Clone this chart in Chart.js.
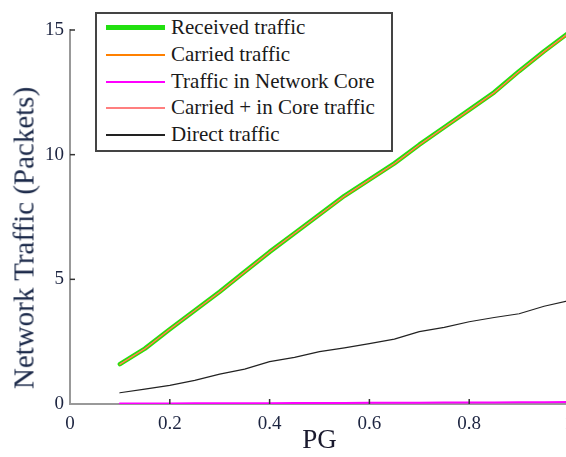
<!DOCTYPE html>
<html>
<head>
<meta charset="utf-8">
<script src="https://cdn.jsdelivr.net/npm/chart.js@4/dist/chart.umd.min.js"></script>
<style>
  html, body { margin: 0; padding: 0; background: #fff; overflow: hidden; }
  #wrap { position: relative; width: 566px; height: 457px; overflow: hidden; }
  #chart { position: absolute; left: 0; top: 0; }
  .ytitle {
    position: absolute; left: 24px; top: 238px;
    transform: translate(-50%, -50%) rotate(-90deg);
    font-family: "Liberation Serif", "DejaVu Serif", serif; font-size: 29px;
    color: #1c2a4a; white-space: nowrap;
  }
  .legend {
    position: absolute; left: 95px; top: 12px; width: 294px; height: 136px;
    border: 2px solid #444; background: #fff;
  }
  .legend .row {
    position: absolute; left: 0; height: 27px; line-height: 27px;
    font-family: "Liberation Serif", "DejaVu Serif", serif; font-size: 21px;
    color: #1a1a1a; white-space: nowrap;
  }
  .legend .row span.swatch { position: absolute; left: 9px; width: 59px; }
  .legend .row span.label { position: absolute; left: 74px; }
</style>
</head>
<body>
<div id="wrap">
  <canvas id="chart" width="600" height="457"></canvas>
  <div class="ytitle">Network Traffic (Packets)</div>
  <div class="legend" id="legend"></div>
</div>
<script>
// ── Data ───────────────────────────────────────────
const pg = [0.10, 0.15, 0.20, 0.25, 0.30, 0.35, 0.40, 0.45, 0.50, 0.55,
            0.60, 0.65, 0.70, 0.75, 0.80, 0.85, 0.90, 0.95, 1.00];

const received   = [1.60, 2.22, 3.00, 3.75, 4.50, 5.30, 6.10, 6.85, 7.60, 8.35,
                    9.00, 9.65, 10.40, 11.10, 11.80, 12.50, 13.35, 14.15, 14.90];
const carried    = [1.59, 2.21, 2.99, 3.74, 4.49, 5.29, 6.09, 6.84, 7.58, 8.33,
                    8.98, 9.63, 10.38, 11.08, 11.78, 12.48, 13.33, 14.12, 14.87];
const coreTraffic = [0.02, 0.02, 0.02, 0.03, 0.03, 0.03, 0.03, 0.04, 0.04, 0.04,
                     0.05, 0.05, 0.05, 0.06, 0.06, 0.06, 0.07, 0.07, 0.08];
const carriedCore = [1.60, 2.22, 3.00, 3.75, 4.50, 5.30, 6.10, 6.85, 7.60, 8.35,
                     9.00, 9.65, 10.40, 11.10, 11.80, 12.50, 13.35, 14.15, 14.90];
const direct     = [0.45, 0.60, 0.75, 0.95, 1.20, 1.40, 1.70, 1.87, 2.10, 2.25,
                    2.42, 2.60, 2.90, 3.07, 3.30, 3.47, 3.62, 3.92, 4.15];

const xTicks = [0, 0.2, 0.4, 0.6, 0.8, 1];
const yTicks = [0, 5, 10, 15];

const series = [
  { label: 'Received traffic',          data: received,    color: '#22e010', width: 4.5, order: 5 },
  { label: 'Carried traffic',           data: carried,     color: '#ff8000', width: 1.5, order: 4 },
  { label: 'Traffic in Network Core',   data: coreTraffic, color: '#ff00ff', width: 2,   order: 2 },
  { label: 'Carried + in Core traffic', data: carriedCore, color: '#ff7f7f', width: 1,   order: 3 },
  { label: 'Direct traffic',            data: direct,      color: '#222222', width: 1.2, order: 1 }
];

const serif = '"Liberation Serif", "DejaVu Serif", serif';

// ── Legend (html) ──────────────────────────────────
const legendEl = document.getElementById('legend');
series.forEach((s, i) => {
  const row = document.createElement('div');
  row.className = 'row';
  row.style.top = Math.round(i * 26.75) + 'px';
  const sw = document.createElement('span');
  sw.className = 'swatch';
  const h = i === 0 ? 5 : 2;
  sw.style.top = (i === 0 ? 11 : 13) + 'px';
  sw.style.height = h + 'px';
  sw.style.background = s.color;
  const lb = document.createElement('span');
  lb.className = 'label';
  lb.textContent = s.label;
  row.appendChild(sw);
  row.appendChild(lb);
  legendEl.appendChild(row);
});

// ── Inward tick marks ──────────────────────────────
const innerTicks = {
  id: 'innerTicks',
  afterDatasetsDraw(chart) {
    const { ctx, scales: { x, y } } = chart;
    ctx.save();
    ctx.strokeStyle = '#333';
    ctx.lineWidth = 1.5;
    xTicks.forEach(v => {
      if (v === 0) return;
      const px = x.getPixelForValue(v);
      ctx.beginPath();
      ctx.moveTo(px, y.bottom);
      ctx.lineTo(px, y.bottom - 5);
      ctx.stroke();
    });
    yTicks.forEach(v => {
      if (v === 0) return;
      const py = y.getPixelForValue(v);
      ctx.beginPath();
      ctx.moveTo(x.left, py);
      ctx.lineTo(x.left + 5, py);
      ctx.stroke();
    });
    ctx.restore();
  }
};

Chart.defaults.font.family = serif;
const tickFont = { family: serif, size: 19 };

new Chart(document.getElementById('chart'), {
  type: 'line',
  data: {
    datasets: series.map(s => ({
      label: s.label,
      data: pg.map((p, i) => ({ x: p, y: s.data[i] })),
      borderColor: s.color,
      backgroundColor: s.color,
      borderWidth: s.width,
      pointRadius: 0,
      tension: 0,
      fill: false,
      order: s.order,
      borderCapStyle: 'round',
      borderJoinStyle: 'round'
    }))
  },
  options: {
    responsive: false,
    animation: false,
    devicePixelRatio: 1,
    layout: { padding: { left: 0, top: 30, right: 31, bottom: 0 } },
    plugins: { legend: { display: false }, tooltip: { enabled: false } },
    scales: {
      x: {
        type: 'linear', min: 0, max: 1,
        afterFit: s => { s.height = 53; },
        afterBuildTicks: s => { s.ticks = xTicks.map(v => ({ value: v })); },
        ticks: { font: tickFont, color: '#1c2440', padding: 9, maxRotation: 0,
                 callback: v => String(v) },
        grid: { display: true, drawOnChartArea: false, drawTicks: false },
        border: { display: true, color: '#999', width: 2 },
        title: { display: true, text: 'PG', color: '#1a1a2e',
                 font: { family: serif, size: 27 },
                 padding: { top: 0, bottom: 0 } }
      },
      y: {
        type: 'linear', min: 0, max: 15,
        afterFit: s => { s.width = 70; },
        afterBuildTicks: s => { s.ticks = yTicks.map(v => ({ value: v })); },
        ticks: { font: tickFont, color: '#1c2440', padding: 6 },
        grid: { display: true, drawOnChartArea: false, drawTicks: false },
        border: { display: true, color: '#999', width: 2 }
      }
    }
  },
  plugins: [innerTicks]
});
</script>
</body>
</html>
